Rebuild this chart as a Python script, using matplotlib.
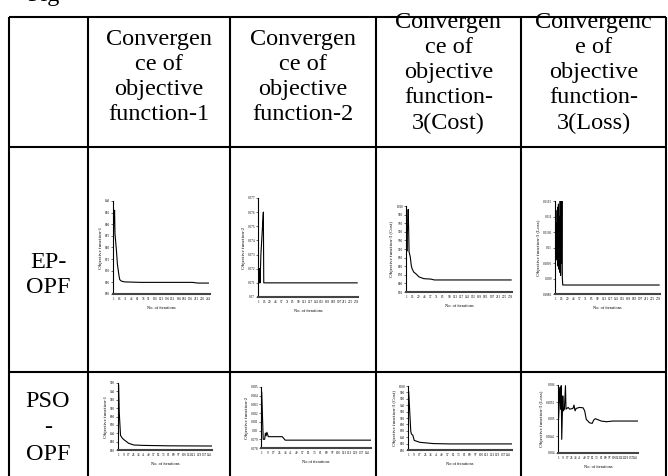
import matplotlib
matplotlib.use('Agg')
import matplotlib.pyplot as plt
from matplotlib.ticker import FuncFormatter

# Times-like font for the whole table
plt.rcParams['font.family'] = ['Liberation Serif', 'DejaVu Serif']

W, H = 668, 476

# table text
col_titles = ['Convergen\nce of\nobjective\nfunction-1',
              'Convergen\nce of\nobjective\nfunction-2',
              'Convergen\nce of\nobjective\nfunction-\n3(Cost)',
              'Convergenc\ne of\nobjective\nfunction-\n3(Loss)']
row_titles = ['EP-\nOPF', 'PSO\n-\nOPF']

ylabels = ['Objective function-1', 'Objective function-2',
           'Objective function-3 (Cost)', 'Objective function-3 (Loss)']

# EP-OPF convergence (iteration, objective value)
ep1_it = [1, 2, 3, 4, 5, 7, 9, 11, 13, 15, 17, 20, 22, 30, 70, 200, 215, 241]
ep1_val = [821, 836, 834, 836, 826, 822, 818, 813, 810.5, 808, 806.2, 805.7,
           805.5, 805.2, 805.0, 805.0, 804.7, 804.7]
ep1_yticks = [800, 805, 810, 815, 820, 825, 830, 835, 840]

ep2_it = [1, 2, 3, 4, 5, 6, 7, 9, 11, 13, 14, 241]
ep2_val = [0.071, 0.072, 0.071, 0.072, 0.071, 0.072, 0.073, 0.074, 0.075,
           0.076, 0.071, 0.071]
ep2_yticks = [0.070, 0.071, 0.072, 0.073, 0.074, 0.075, 0.076, 0.077]

ep3_it = [1, 2, 3, 5, 6, 7, 8, 10, 12, 14, 18, 22, 30, 41, 57, 65, 241]
ep3_val = [950, 905, 945, 1002, 960, 903, 900, 890, 872, 864, 856, 853, 845,
           841, 840, 838, 838]
ep3_yticks = [810, 830, 850, 870, 890, 910, 930, 950, 970, 990, 1010]

ep4_it = [1, 2, 3, 4, 5, 6, 7, 8, 9, 10, 11, 12, 13, 14, 15, 16, 17, 18, 241]
ep4_val = [0.0104, 0.0112, 0.0096, 0.0108, 0.0099, 0.0113, 0.0094, 0.0114,
           0.0093, 0.0110, 0.0092, 0.0115, 0.0091, 0.0114, 0.0095, 0.0115,
           0.0090, 0.00879, 0.00879]
ep4_yticks = [0.0085, 0.009, 0.0095, 0.01, 0.0105, 0.011, 0.0115]

# PSO-OPF convergence
pso1_it = [1, 2, 4, 7, 10, 17, 25, 40, 80, 150]
pso1_val = [955, 890, 835, 828, 824, 816, 812, 811, 810, 809.5]
pso1_yticks = [800, 820, 840, 860, 880, 900, 920, 940, 960]

pso2_it = [1, 3, 5, 6, 7, 8, 10, 29, 33, 150]
pso2_val = [0.0844, 0.0790, 0.0790, 0.0797, 0.0794, 0.0798, 0.0793, 0.0793,
            0.0789, 0.0789]
pso2_yticks = [0.078, 0.079, 0.080, 0.081, 0.082, 0.083, 0.084, 0.085]

pso3_it = [1, 4, 5, 7, 9, 17, 37, 61, 150]
pso3_val = [982, 858, 850, 846, 830, 824, 820, 819, 819]
pso3_yticks = [800, 820, 840, 860, 880, 900, 920, 940, 960, 980, 1000]

pso4_it = [1, 3, 4, 5, 6, 7, 9, 10, 12, 14, 15, 19, 22, 28, 30, 32, 34, 40,
           47, 50, 53, 59, 64, 67, 70, 81, 91, 103, 150]
pso4_val = [0.00499, 0.00568, 0.00593, 0.00529, 0.00598, 0.00440, 0.00568,
            0.00524, 0.00529, 0.00598, 0.00529, 0.00534, 0.00529, 0.00531,
            0.00541, 0.00524, 0.00531, 0.00534, 0.00533, 0.00524, 0.00499,
            0.00489, 0.00487, 0.00497, 0.00501, 0.00494, 0.00492, 0.00494,
            0.00494]
pso4_yticks = [0.0040, 0.0045, 0.0050, 0.0055, 0.0060]

ep_xticks_a = list(range(1, 242, 15))
ep_xticks_b = list(range(1, 240, 14))
pso_xticks = list(range(1, 146, 8))

fig = plt.figure(figsize=(W / 100, H / 100), dpi=100)

# background axes in pixel coordinates for the table grid
tab = fig.add_axes([0, 0, 1, 1])
tab.set_xlim(0, W)
tab.set_ylim(H, 0)
tab.axis('off')

col_x = [9, 88, 230, 376, 521, 666]
row_y = [17, 147, 372]
for x in col_x:
    tab.plot([x, x], [row_y[0], H + 5], color='black', lw=1.5,
             solid_capstyle='butt')
for y in row_y:
    tab.plot([col_x[0], col_x[-1]], [y, y], color='black', lw=1.5,
             solid_capstyle='butt')

# caption line above the table, cut off by the page edge
tab.text(27, 0.5, 'Fig', fontsize=17.5, va='baseline', ha='left')

for i, t in enumerate(col_titles):
    cx = (col_x[i + 1] + col_x[i + 2]) / 2
    cy = 77 if t.count('\n') == 3 else 73
    tab.text(cx, cy, t, fontsize=17.5, ha='center', va='center',
             linespacing=1.25)

tab.text(48, 275, row_titles[0], fontsize=17.5, ha='center', va='center',
         linespacing=1.3)
tab.text(48, 428, row_titles[1], fontsize=17.5, ha='center', va='center',
         linespacing=1.35)


def small_chart(box, it, val, yticks, xticks, xmax, ylabel, xlabel):
    l, t, r, b = box
    ax = fig.add_axes([l / W, 1 - b / H, (r - l) / W, (b - t) / H])
    ax.set_facecolor('none')
    ax.plot(it, val, color='black', lw=0.8)
    ax.set_xlim(0, xmax)
    ax.set_ylim(yticks[0], yticks[-1])
    ax.set_yticks(yticks)
    ax.set_xticks(xticks)
    ax.yaxis.set_major_formatter(FuncFormatter(lambda v, p: '%g' % v))
    ax.tick_params(axis='x', length=0, labelsize=2.4, pad=2.5)
    ax.tick_params(axis='y', length=1.2, width=0.4, labelsize=2.4, pad=0.8)
    ax.spines['top'].set_visible(False)
    ax.spines['right'].set_visible(False)
    ax.spines['left'].set_linewidth(0.8)
    ax.spines['bottom'].set_linewidth(1.5)
    ax.spines['bottom'].set_color('#444444')
    ax.set_ylabel(ylabel, fontsize=3.6, labelpad=1.5)
    ax.set_xlabel(xlabel, fontsize=3.2, labelpad=3)
    return ax


small_chart((113, 201, 210, 294), ep1_it, ep1_val, ep1_yticks, ep_xticks_a,
            245, ylabels[0], 'No. of iterations')
small_chart((258, 198, 358, 297), ep2_it, ep2_val, ep2_yticks, ep_xticks_b,
            243, ylabels[1], 'No. of iterations')
small_chart((406, 206, 512, 292), ep3_it, ep3_val, ep3_yticks, ep_xticks_b,
            243, ylabels[2], 'No. of iterations')
small_chart((555, 201, 660, 294), ep4_it, ep4_val, ep4_yticks, ep_xticks_b,
            243, ylabels[3], 'No. of iterations')

small_chart((118, 383, 212, 450), pso1_it, pso1_val, pso1_yticks, pso_xticks,
            150, ylabels[0], 'No. of iterations')
small_chart((261, 387, 371, 448), pso2_it, pso2_val, pso2_yticks, pso_xticks,
            150, ylabels[1], 'No of iterations')
small_chart((408, 386, 512, 450), pso3_it, pso3_val, pso3_yticks, pso_xticks,
            150, ylabels[2], 'No of iterations')
small_chart((558, 385, 638, 453), pso4_it, pso4_val, pso4_yticks, pso_xticks,
            150, ylabels[3], 'No. of iterations')

fig.savefig('out.png', dpi=100)
